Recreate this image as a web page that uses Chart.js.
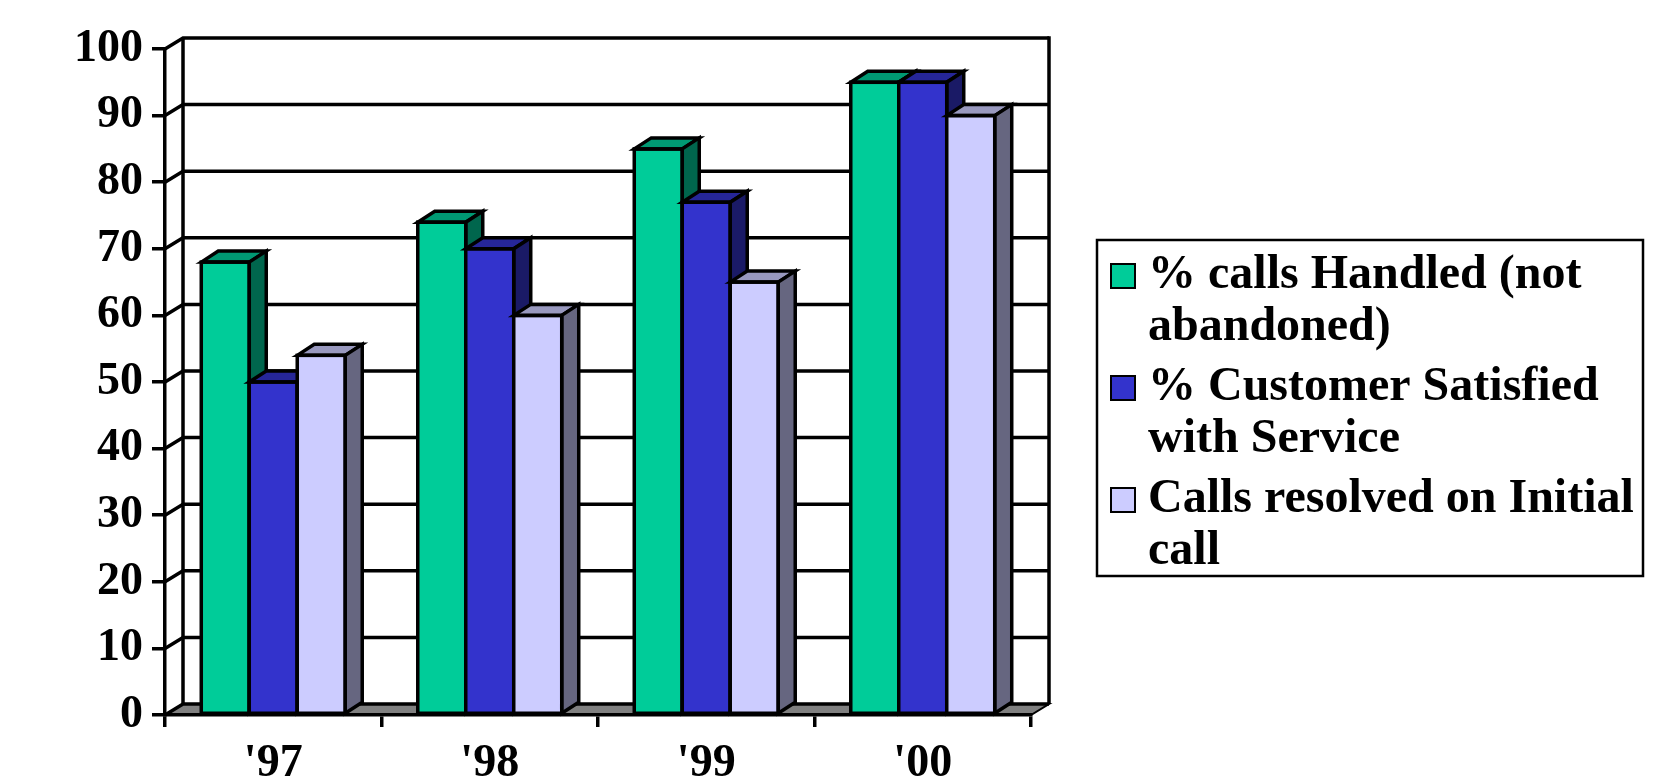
<!DOCTYPE html>
<html>
<head>
<meta charset="utf-8">
<script src="https://cdn.jsdelivr.net/npm/chart.js@4.4.1/dist/chart.umd.min.js"></script>
<style>
    html, body { margin: 0; padding: 0; background: #fff; }
    #wrap { width: 1670px; height: 781px; }
</style>
</head>
<body>
<div id="wrap"><canvas id="callChart" width="1670" height="781"></canvas></div>
<script>
// ── Data ──────────────────────────────────────────────────────────────────────
const YEARS            = ["'97", "'98", "'99", "'00"];
const CALLS_HANDLED    = [68, 74, 85, 95];
const CUST_SATISFIED   = [50, 70, 77, 95];
const RESOLVED_INITIAL = [54, 60, 65, 90];

const SERIES_NAMES = [
    '% calls Handled (not abandoned)',
    '% Customer Satisfied with Service',
    'Calls resolved on Initial call',
];
// legend text as it wraps in the box
const LEGEND_LINES = [
    ['% calls Handled (not', 'abandoned)'],
    ['% Customer Satisfied', 'with Service'],
    ['Calls resolved on Initial', 'call'],
];

const Y_MIN = 0, Y_MAX = 100, Y_STEP = 10;

// ── Style ─────────────────────────────────────────────────────────────────────
const FRONT = ['#00CC99', '#3333CC', '#CCCCFF'];
const TOP   = ['#009973', '#262699', '#9999BF'];
const SIDE  = ['#00664D', '#1A1A66', '#666680'];
const FLOOR = '#808080';
const FONT  = "'Liberation Serif', 'Times New Roman', serif";
const LW    = 3.5;

// 3D depth offsets (back wall / each bar)
const WALL_DX = 18, WALL_DY = 11;
const BAR_DX  = 17, BAR_DY  = 11;

// legend box
const LEG = { left: 1097, top: 240, right: 1643, bottom: 576, markX: 1111, mark: 24, textX: 1148 };
const LEG_FIRST = 276, LEG_LINE = 52, LEG_ITEM = 112;

// ── Back wall, side wall, floor + gridlines ───────────────────────────────────
const wall3d = {
    id: 'wall3d',
    beforeDraw(chart) {
        const { ctx, chartArea: a, scales: { y } } = chart;
        ctx.save();

        // floor
        ctx.beginPath();
        ctx.moveTo(a.left, a.bottom);
        ctx.lineTo(a.right, a.bottom);
        ctx.lineTo(a.right + WALL_DX, a.bottom - WALL_DY);
        ctx.lineTo(a.left + WALL_DX, a.bottom - WALL_DY);
        ctx.closePath();
        ctx.fillStyle = FLOOR;
        ctx.fill();
        ctx.lineWidth = 2;
        ctx.strokeStyle = '#000';
        ctx.stroke();

        // gridlines: diagonal on the left wall, then across the back wall
        ctx.lineWidth = LW;
        y.ticks.forEach(t => {
            const py = y.getPixelForValue(t.value);
            ctx.beginPath();
            ctx.moveTo(a.left, py);
            ctx.lineTo(a.left + WALL_DX, py - WALL_DY);
            ctx.lineTo(a.right + WALL_DX, py - WALL_DY);
            ctx.stroke();
        });

        // wall corners
        ctx.beginPath();
        ctx.moveTo(a.left + WALL_DX, a.top - WALL_DY);
        ctx.lineTo(a.left + WALL_DX, a.bottom - WALL_DY);
        ctx.moveTo(a.right + WALL_DX, a.top - WALL_DY - LW / 2);
        ctx.lineTo(a.right + WALL_DX, a.bottom - WALL_DY);
        ctx.stroke();
        ctx.restore();
    },
};

// ── 3D bars (front, top, side) drawn in series order ──────────────────────────
const bars3d = {
    id: 'bars3d',
    afterDatasetsDraw(chart) {
        const { ctx } = chart;
        ctx.save();
        ctx.lineWidth = LW;
        ctx.strokeStyle = '#000';
        ctx.lineJoin = 'miter';
        chart.data.datasets.forEach((ds, i) => {
            const meta = chart.getDatasetMeta(i);
            meta.data.forEach(bar => {
                const { x, y, base, width } = bar.getProps(['x', 'y', 'base', 'width'], true);
                const l = x - width / 2, r = x + width / 2;

                ctx.fillStyle = FRONT[i];
                ctx.fillRect(l, y, r - l, base - y);

                ctx.beginPath();
                ctx.moveTo(l, y);
                ctx.lineTo(l + BAR_DX, y - BAR_DY);
                ctx.lineTo(r + BAR_DX, y - BAR_DY);
                ctx.lineTo(r, y);
                ctx.closePath();
                ctx.fillStyle = TOP[i];
                ctx.fill();
                ctx.stroke();

                ctx.beginPath();
                ctx.moveTo(r, y);
                ctx.lineTo(r + BAR_DX, y - BAR_DY);
                ctx.lineTo(r + BAR_DX, base - BAR_DY);
                ctx.lineTo(r, base);
                ctx.closePath();
                ctx.fillStyle = SIDE[i];
                ctx.fill();
                ctx.stroke();

                ctx.strokeRect(l, y, r - l, base - y);
            });
        });
        ctx.restore();
    },
};

// ── Legend box on the right ───────────────────────────────────────────────────
const legendBox = {
    id: 'legendBox',
    afterDraw(chart) {
        const { ctx } = chart;
        ctx.save();
        ctx.lineWidth = 2.5;
        ctx.strokeStyle = '#000';
        ctx.strokeRect(LEG.left, LEG.top, LEG.right - LEG.left, LEG.bottom - LEG.top);

        ctx.font = `bold 48px ${FONT}`;
        ctx.textAlign = 'left';
        ctx.textBaseline = 'middle';
        LEGEND_LINES.forEach((lines, i) => {
            const cy = LEG_FIRST + i * LEG_ITEM;
            ctx.fillStyle = FRONT[i];
            ctx.fillRect(LEG.markX, cy - LEG.mark / 2, LEG.mark, LEG.mark);
            ctx.lineWidth = 2;
            ctx.strokeRect(LEG.markX, cy - LEG.mark / 2, LEG.mark, LEG.mark);
            ctx.fillStyle = '#000';
            lines.forEach((txt, k) => ctx.fillText(txt, LEG.textX, cy + k * LEG_LINE));
        });
        ctx.restore();
    },
};

const mk = (label, data, i) => ({
    label, data, backgroundColor: FRONT[i], borderWidth: 0,
    categoryPercentage: 0.665, barPercentage: 1,
});

new Chart(document.getElementById('callChart'), {
    type: 'bar',
    data: {
        labels: YEARS,
        datasets: [
            mk(SERIES_NAMES[0], CALLS_HANDLED, 0),
            mk(SERIES_NAMES[1], CUST_SATISFIED, 1),
            mk(SERIES_NAMES[2], RESOLVED_INITIAL, 2),
        ],
    },
    options: {
        responsive: false,
        devicePixelRatio: 1,
        animation: false,
        layout: { padding: { left: 0, top: 49, right: 639, bottom: 0 } },
        plugins: {
            legend: { display: false },
            tooltip: { enabled: false },
        },
        scales: {
            x: {
                afterFit: (s) => { s.height = 66; },
                grid: { drawOnChartArea: false, drawTicks: true, tickLength: 12, color: '#000', lineWidth: LW, offset: true },
                border: { display: true, color: '#000', width: LW },
                ticks: { color: '#000', padding: 10, font: { family: FONT, size: 46, weight: 'bold' } },
            },
            y: {
                min: Y_MIN, max: Y_MAX,
                afterFit: (s) => { s.width = 165; },
                grid: { drawOnChartArea: false, drawTicks: true, tickLength: 13, color: '#000', lineWidth: LW },
                border: { display: true, color: '#000', width: LW },
                ticks: { stepSize: Y_STEP, color: '#000', padding: 9, font: { family: FONT, size: 46, weight: 'bold' } },
            },
        },
    },
    plugins: [wall3d, bars3d, legendBox],
});
</script>
</body>
</html>
